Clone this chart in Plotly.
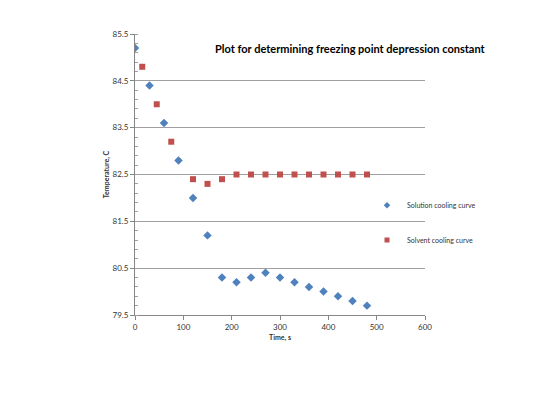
import plotly.graph_objects as go

solution_time = [0, 30, 60, 90, 120, 150, 180, 210, 240, 270, 300, 330, 360, 390, 420, 450, 480]
solution_temp = [85.2, 84.4, 83.6, 82.8, 82.0, 81.2, 80.3, 80.2, 80.3, 80.4, 80.3, 80.2, 80.1, 80.0, 79.9, 79.8, 79.7]
solvent_time = [15, 45, 75, 120, 150, 180, 210, 240, 270, 300, 330, 360, 390, 420, 450, 480]
solvent_temp = [84.8, 84.0, 83.2, 82.4, 82.3, 82.4, 82.5, 82.5, 82.5, 82.5, 82.5, 82.5, 82.5, 82.5, 82.5, 82.5]

BLUE = "#4F81BD"
RED = "#C0504D"

fig = go.Figure()
fig.add_trace(go.Scatter(x=solution_time, y=solution_temp, mode="markers",
                         name="Solution cooling curve", showlegend=False,
                         marker=dict(symbol="diamond", size=6.5, color=BLUE)))
fig.add_trace(go.Scatter(x=solvent_time, y=solvent_temp, mode="markers",
                         name="Solvent cooling curve", showlegend=False,
                         marker=dict(symbol="square", size=6, color=RED)))
# legend entries (smaller symbols, as in the reference)
fig.add_trace(go.Scatter(x=[None], y=[None], mode="markers",
                         name="Solution cooling curve", legend="legend",
                         marker=dict(symbol="diamond", size=5, color=BLUE)))
fig.add_trace(go.Scatter(x=[None], y=[None], mode="markers",
                         name="Solvent cooling curve", legend="legend2",
                         marker=dict(symbol="square", size=5, color=RED)))

fig.update_layout(
    width=560, height=420,
    margin=dict(l=135, r=135, t=34, b=105),
    paper_bgcolor="white", plot_bgcolor="white",
    font=dict(family="Lato, Liberation Sans, sans-serif", size=8, color="#333"),
    showlegend=True,
    legend=dict(x=0.80, y=0.391, xanchor="left", yanchor="middle",
                font=dict(size=7), bgcolor="rgba(0,0,0,0)", itemwidth=30),
    legend2=dict(x=0.80, y=0.267, xanchor="left", yanchor="middle",
                 font=dict(size=7), bgcolor="rgba(0,0,0,0)", itemwidth=30),
    annotations=[dict(text="<b>Plot for determining freezing point depression constant</b>",
                      x=445, y=85.2, xref="x", yref="y", xanchor="center", yanchor="middle",
                      showarrow=False, font=dict(size=11, color="#000"))],
)
fig.update_xaxes(range=[0, 600], dtick=100, tick0=0,
                 showgrid=False, zeroline=False,
                 showline=True, linecolor="#868686", linewidth=1,
                 ticks="outside", ticklen=4, tickcolor="#868686",
                 title=dict(text="<b>Time, s</b>", font=dict(size=7), standoff=4))
fig.update_yaxes(range=[79.5, 85.5], dtick=1, tick0=79.5,
                 showgrid=True, gridcolor="#A0A0A0", gridwidth=1, zeroline=False,
                 showline=True, linecolor="#868686", linewidth=1,
                 ticks="outside", ticklen=4, tickcolor="#868686",
                 minor=dict(dtick=0.2, tick0=79.5, ticks="inside", ticklen=3,
                            tickcolor="#A0A0A0", showgrid=False),
                 title=dict(text="<b>Temperature, C</b>", font=dict(size=7), standoff=2))

fig.write_html("out.html")
